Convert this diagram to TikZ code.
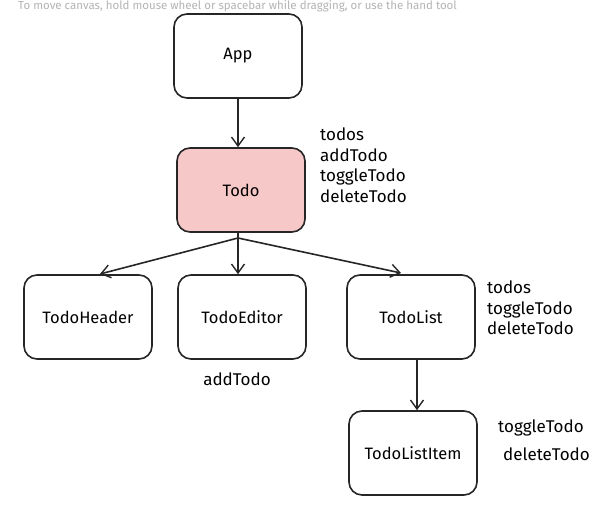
\documentclass[tikz,border=0pt]{standalone}
\usepackage{fontspec}
\setmainfont{Fira Sans}
\usetikzlibrary{arrows.meta}
\definecolor{pinkfill}{HTML}{F7C8C8}
\definecolor{hintgray}{HTML}{B4B4B4}
\begin{document}
\begin{tikzpicture}[x=1pt,y=-1pt,
  box/.style={draw=black!85, line width=1.6pt, rounded corners=13pt, minimum width=128pt, minimum height=84pt, font=\fontsize{16.5}{18}\selectfont, inner sep=0pt},
  lbl/.style={font=\fontsize{17}{20.5}\selectfont, align=left, anchor=north west, inner sep=0pt},
  conn/.style={draw=black!85, line width=1.6pt, -{Straight Barb[length=9pt,width=13pt,line width=1.4pt]}}]
\useasboundingbox (0,0) rectangle (607,516);
\fill[white] (0,0) rectangle (607,516);
\node[anchor=base west, inner sep=0pt, text=hintgray, font=\fontsize{11.5}{13}\selectfont] (hint) at (18,10) {To move canvas, hold mouse wheel or spacebar while dragging, or use the hand tool};
\node[box] (app) at (238,56) {App};
\node[box, fill=pinkfill] (todo) at (241,190) {Todo};
\node[box] (header) at (88,317) {TodoHeader};
\node[box] (editor) at (242,317) {TodoEditor};
\node[box] (list) at (411,317) {TodoList};
\node[box] (item) at (413,453) {TodoListItem};
\coordinate (hub) at (238,238);
\node[lbl] (todolbl) at (320,128) {todos\\addTodo\\toggleTodo\\deleteTodo};
\node[lbl, anchor=north] (editorlbl) at (237,373) {addTodo};
\node[lbl] (listlbl) at (487,281) {todos\\toggleTodo\\deleteTodo};
\node[lbl] (itemlbl1) at (498,420) {toggleTodo};
\node[lbl] (itemlbl2) at (503,448) {deleteTodo};
\draw[conn] (app.south) -- (todo.north -| app.south);
\draw[draw=black!85, line width=1.6pt] (todo.south -| hub) -- (hub);
\draw[conn] (hub) -- (100,274);
\draw[conn] (hub) -- (editor.north -| hub);
\draw[conn] (hub) -- (401,273);
\draw[conn] (list.south -| 417,0) -- (item.north -| 417,0);
\end{tikzpicture}
\end{document}
